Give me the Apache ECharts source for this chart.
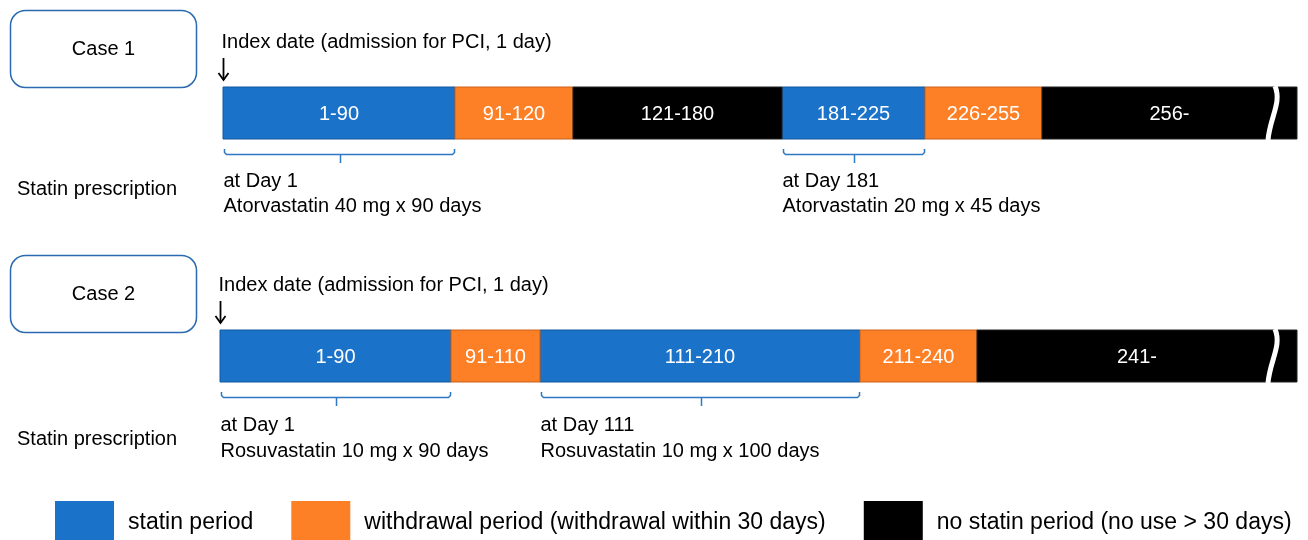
<!DOCTYPE html>
<html><head><meta charset="utf-8">
<script src="https://cdn.jsdelivr.net/npm/echarts@6/dist/echarts.min.js"></script>
<style>html,body{margin:0;padding:0;background:#fff}#c{width:1308px;height:540px}</style>
</head><body><div id="c"></div>
<script>
// ---------- data ----------
const caseNames = ['Case 1', 'Case 2'];
const case1Labels = ['1-90', '91-120', '121-180', '181-225', '226-255', '256-'];
const case1Types = ['statin', 'withdrawal', 'none', 'statin', 'withdrawal', 'none'];
const case1Widths = [232, 118, 209, 143, 117, 255]; // schematic (non-proportional) lengths
const case2Labels = ['1-90', '91-110', '111-210', '211-240', '241-'];
const case2Types = ['statin', 'withdrawal', 'statin', 'withdrawal', 'none'];
const case2Widths = [231, 89, 320, 117, 320];
const caseLead = [3, 0]; // schematic lead-in before day 1
const rxCase = [0, 0, 1, 1];
const rxSegment = [0, 3, 0, 2];
const rxDay = ['at Day 1', 'at Day 181', 'at Day 1', 'at Day 111'];
const rxDrug = ['Atorvastatin 40 mg x 90 days', 'Atorvastatin 20 mg x 45 days',
                'Rosuvastatin 10 mg x 90 days', 'Rosuvastatin 10 mg x 100 days'];
const typeNames = {
  statin: 'statin period',
  withdrawal: 'withdrawal period (withdrawal within 30 days)',
  none: 'no statin period (no use > 30 days)'
};
const indexText = 'Index date (admission for PCI, 1 day)';

// ---------- styles ----------
const FONT = '"Liberation Sans", Arial, sans-serif';
const colors = { statin: '#1B73C9', withdrawal: '#FE8026', none: '#000000' };
const strokes = { statin: '#10599F', withdrawal: '#C9611B', none: '#222222' };
const BAR_H = 52;

// ---------- build segments ----------
const cases = [
  { labels: case1Labels, types: case1Types, widths: case1Widths },
  { labels: case2Labels, types: case2Types, widths: case2Widths }
];
const segs = { statin: [], withdrawal: [], none: [] };
const segBounds = [[], []];
cases.forEach((c, ci) => {
  let x = caseLead[ci];
  c.labels.forEach((lab, i) => {
    const x0 = x, x1 = x + c.widths[i];
    segBounds[ci].push([x0, x1]);
    segs[c.types[i]].push({ row: ci, x0, x1, label: lab, open: i === c.labels.length - 1 && /-$/.test(lab) });
    x = x1;
  });
});

function segSeries(type) {
  const list = segs[type];
  return {
    type: 'custom', name: typeNames[type], clip: false,
    itemStyle: { color: colors[type] },
    encode: { x: [1, 2], y: 0 },
    data: list.map(s => [s.row, s.x0, s.x1]),
    renderItem(params, api) {
      const s = list[params.dataIndex];
      const a = api.coord([s.x0, s.row]), b = api.coord([s.x1, s.row]);
      const top = a[1] - BAR_H / 2, bot = a[1] + BAR_H / 2;
      const ch = [{
        type: 'rect', shape: { x: a[0], y: top, width: b[0] - a[0], height: BAR_H },
        style: { fill: colors[type], stroke: strokes[type], lineWidth: 1 }
      }, {
        type: 'text', style: { text: s.label, x: (a[0] + b[0]) / 2, y: a[1] + 1, align: 'center',
          verticalAlign: 'middle', fill: '#fff', font: '20px ' + FONT }
      }];
      if (s.open) {
        const xe = b[0];
        ch.push({ type: 'bezierCurve', shape: { x1: xe - 22, y1: top - 1, cpx1: xe - 15, cpy1: top + 16,
          cpx2: xe - 27, cpy2: bot - 22, x2: xe - 29, y2: bot + 1 },
          style: { stroke: '#fff', lineWidth: 5, fill: null } });
      }
      return { type: 'group', children: ch };
    }
  };
}

const option = {
  animation: false,
  backgroundColor: '#fff',
  grid: { left: 220, right: 11, top: 113, bottom: 184 },
  xAxis: { type: 'value', min: 0, max: 1077, show: false },
  yAxis: { type: 'category', data: caseNames, inverse: true, boundaryGap: false, show: false },
  legend: {
    left: 55, top: 501, padding: 0, itemWidth: 59, itemHeight: 44, itemGap: 38, icon: 'rect',
    selectedMode: false,
    itemStyle: { borderWidth: 0 },
    textStyle: { fontSize: 23, fontFamily: FONT, color: '#000', padding: [0, 0, 0, 9] },
    data: [typeNames.statin, typeNames.withdrawal, typeNames.none]
  },
  graphic: [
    { type: 'rect', shape: { x: 10.5, y: 10.5, width: 186, height: 77, r: 15 },
      style: { fill: '#fff', stroke: '#2A6AAE', lineWidth: 1.5 } },
    { type: 'text', style: { text: caseNames[0], x: 103.5, y: 49, align: 'center', verticalAlign: 'middle', fill: '#000', font: '20px ' + FONT } },
    { type: 'rect', shape: { x: 10.5, y: 255.5, width: 186, height: 77, r: 15 },
      style: { fill: '#fff', stroke: '#2A6AAE', lineWidth: 1.5 } },
    { type: 'text', style: { text: caseNames[1], x: 103.5, y: 294, align: 'center', verticalAlign: 'middle', fill: '#000', font: '20px ' + FONT } },
    { type: 'text', style: { text: 'Statin prescription', x: 17, y: 189, align: 'left', verticalAlign: 'middle', fill: '#000', font: '20px ' + FONT } },
    { type: 'text', style: { text: 'Statin prescription', x: 17, y: 439, align: 'left', verticalAlign: 'middle', fill: '#000', font: '20px ' + FONT } }
  ],
  series: [
    segSeries('statin'), segSeries('withdrawal'), segSeries('none'),
    {
      type: 'custom', name: 'index', clip: false, silent: true,
      encode: { x: 1, y: 0 },
      data: caseNames.map((n, i) => [i, caseLead[i]]),
      renderItem(params, api) {
        const p = api.coord([api.value(1), api.value(0)]);
        const x = Math.round(p[0]) + 0.5, c = p[1];
        return { type: 'group', children: [
          { type: 'text', style: { text: indexText, x: x - 2, y: c - 71, align: 'left', verticalAlign: 'middle', fill: '#000', font: '20px ' + FONT } },
          { type: 'line', shape: { x1: x, y1: c - 55, x2: x, y2: c - 33 }, style: { stroke: '#000', lineWidth: 1.8 } },
          { type: 'polyline', shape: { points: [[x - 5, c - 40], [x, c - 33], [x + 5, c - 40]] }, style: { stroke: '#000', lineWidth: 1.8, fill: null } }
        ] };
      }
    },
    {
      type: 'custom', name: 'rx', clip: false, silent: true,
      encode: { x: [1, 2], y: 0 },
      data: rxCase.map((ci, k) => [ci, segBounds[ci][rxSegment[k]][0], segBounds[ci][rxSegment[k]][1]]),
      renderItem(params, api) {
        const k = params.dataIndex;
        const a = api.coord([api.value(1), api.value(0)]), b = api.coord([api.value(2), api.value(0)]);
        const bot = a[1] + BAR_H / 2;
        const x0 = Math.round(a[0]) + 1.5, x1 = Math.round(b[0]) - 0.5, xm = Math.round((x0 + x1) / 2) + 0.5;
        const yl = Math.round(bot + 15) + 0.5;
        return { type: 'group', children: [
          { type: 'polyline', shape: { points: [[x0, bot + 10], [x0, yl - 2], [x0 + 2, yl], [x1 - 2, yl], [x1, yl - 2], [x1, bot + 10]] },
            style: { stroke: '#2F78C4', lineWidth: 1.5, fill: null } },
          { type: 'line', shape: { x1: xm, y1: yl, x2: xm, y2: bot + 24 }, style: { stroke: '#2F78C4', lineWidth: 1.5 } },
          { type: 'text', style: { text: rxDay[k], x: x0 - 1, y: bot + 42 + api.value(0) * 1, align: 'left', verticalAlign: 'middle', fill: '#000', font: '20px ' + FONT } },
          { type: 'text', style: { text: rxDrug[k], x: x0 - 1, y: bot + 67 + api.value(0) * 2, align: 'left', verticalAlign: 'middle', fill: '#000', font: '20px ' + FONT } }
        ] };
      }
    }
  ]
};
const chart = echarts.init(document.getElementById('c'), null, { renderer: 'canvas' });
chart.setOption(option);
</script>
</body></html>
